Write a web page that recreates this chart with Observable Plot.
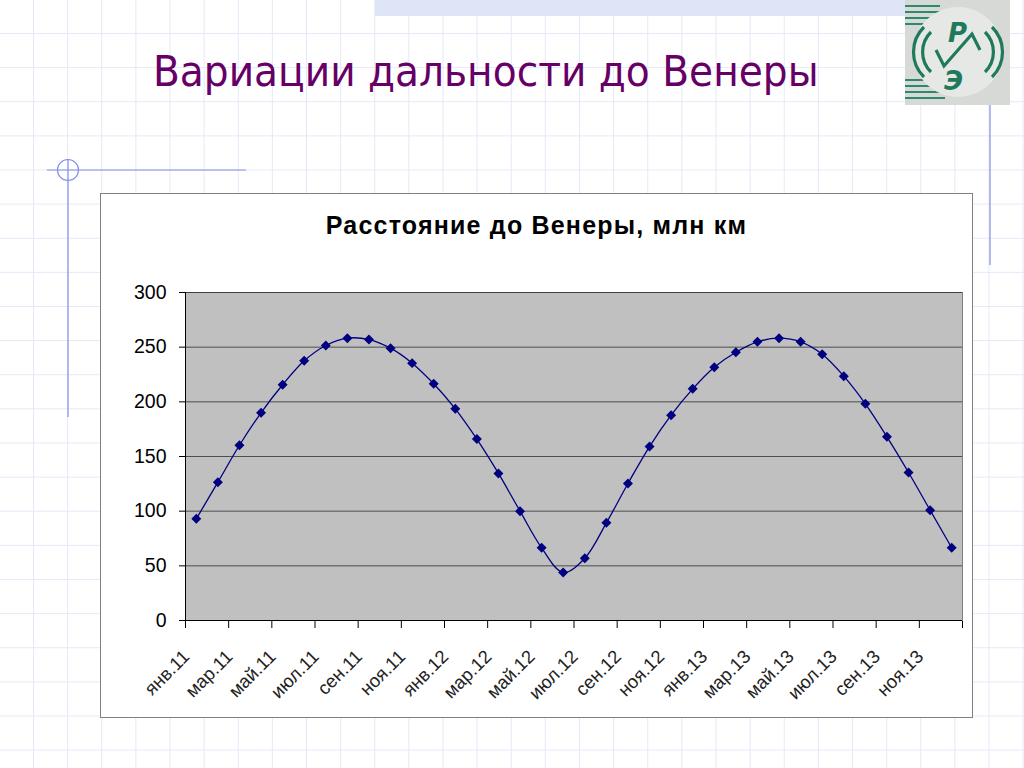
<!DOCTYPE html>
<html>
<head>
<meta charset="utf-8">
<script src="https://cdn.jsdelivr.net/npm/d3@7"></script>
<script src="https://cdn.jsdelivr.net/npm/@observablehq/plot@0.6"></script>
<style>
  html, body { margin: 0; padding: 0; }
  body {
    width: 1024px; height: 768px; position: relative; overflow: hidden;
    background-color: #fff;
    background-image:
      linear-gradient(to right, #e4e9f7 1px, transparent 1px),
      linear-gradient(to bottom, #e4e9f7 1px, transparent 1px);
    background-size: 34.13px 34.13px;
    background-position: 33px 33px;
  }
  .abs { position: absolute; }
  #title {
    left: 153px; top: 46px; font-family: "DejaVu Sans Condensed", "DejaVu Sans", sans-serif;
    font-size: 43.5px; color: #660066; white-space: nowrap;
  }
  #chartbox {
    left: 100px; top: 193px; width: 871px; height: 523px;
    background: #fff; border: 1px solid #808080;
  }
  #charttitle {
    left: 100px; top: 211px; width: 873px; text-align: center;
    font-family: "Liberation Sans", Arial, sans-serif; font-weight: bold; font-size: 25px;
    letter-spacing: 1.2px; color: #000;
  }
  #plot { left: 100px; top: 193px; }
</style>
</head>
<body>
<!-- decorative slide elements -->
<div class="abs" style="left:375px;top:0;width:530px;height:16px;background:#dde5f7;"></div>
<svg class="abs" style="left:0;top:0" width="1024" height="768">
  <line x1="47" y1="170" x2="246" y2="170" stroke="#8090e4" stroke-width="1.2"/>
  <circle cx="68" cy="170" r="10.5" fill="none" stroke="#8090e4" stroke-width="1.2"/>
  <line x1="68" y1="159" x2="68" y2="417" stroke="#8090e4" stroke-width="1.2"/>
  <line x1="990" y1="105" x2="990" y2="265" stroke="#8090e4" stroke-width="1.2"/>
  <!-- logo -->
  <rect x="905" y="0" width="105" height="105" fill="#d6d9d6"/>
  <g stroke="#2c8a6c" stroke-width="2">
    <line x1="905" y1="6" x2="940" y2="6"/><line x1="905" y1="12" x2="940" y2="12"/>
    <line x1="905" y1="18" x2="935" y2="18"/><line x1="905" y1="24" x2="930" y2="24"/>
    <line x1="905" y1="80" x2="930" y2="80"/><line x1="905" y1="86" x2="935" y2="86"/>
    <line x1="905" y1="92" x2="940" y2="92"/><line x1="905" y1="98" x2="945" y2="98"/>
  </g>
  <circle cx="958" cy="52" r="45" fill="#e6e8e6"/>
  <g fill="none" stroke="#1f7a5c" stroke-width="3.2">
    <path d="M931,32 A28,28 0 0 0 931,72"/>
    <path d="M924,27 A35,35 0 0 0 924,77"/>
    <path d="M985,32 A28,28 0 0 1 985,72"/>
    <path d="M992,27 A35,35 0 0 1 992,77"/>
    <path d="M936,50 L944,66 L972,34 L980,50"/>
  </g>
  <text x="948" y="42" font-family="DejaVu Sans" font-style="italic" font-weight="bold" font-size="26" fill="#1f7a5c">Р</text>
  <text x="944" y="90" font-family="DejaVu Sans" font-style="italic" font-weight="bold" font-size="26" fill="#1f7a5c">Э</text>
</svg>
<div id="title" class="abs">Вариации дальности до Венеры</div>
<div id="chartbox" class="abs"></div>
<div id="plot" class="abs"></div>
<div id="charttitle" class="abs">Расстояние до Венеры, млн км</div>
<script>
const months = [
  "янв.11","фев.11","мар.11","апр.11","май.11","июн.11","июл.11","авг.11","сен.11","окт.11","ноя.11","дек.11",
  "янв.12","фев.12","мар.12","апр.12","май.12","июн.12","июл.12","авг.12","сен.12","окт.12","ноя.12","дек.12",
  "янв.13","фев.13","мар.13","апр.13","май.13","июн.13","июл.13","авг.13","сен.13","окт.13","ноя.13","дек.13"
];
const distance = [
  93, 126.5, 160.3, 190, 215.6, 237.5, 251.5, 258.2, 257, 249.1, 235.4, 216.5,
  193.6, 165.9, 134.5, 100, 66.5, 43.9, 57, 89.3, 125.3, 159.1, 187.8, 211.9,
  231.7, 245.4, 254.9, 258.2, 254.9, 243.6, 223.5, 198.2, 168, 135.4, 100.9, 66.5
];
const yTicks = [0, 50, 100, 150, 200, 250, 300];
const xTickBoundaries = d3.range(0, 37, 2);
const labelEvery = 2;

const rows = months.map((m, i) => ({i, m, v: distance[i]}));
const labels = rows.filter(d => d.i % labelEvery === 0);

const chart = Plot.plot({
  width: 873,
  height: 525,
  marginLeft: 85,
  marginRight: 11,
  marginTop: 99,
  marginBottom: 98,
  style: {background: "transparent", fontFamily: "'Liberation Sans', Arial, sans-serif", fontSize: "19.5px", color: "#000", overflow: "visible"},
  x: {domain: [0, 36], ticks: xTickBoundaries, tickFormat: () => "", tickSize: 8, label: null},
  y: {domain: [0, 300], ticks: yTicks, tickSize: 6, tickPadding: 13, label: null},
  marks: [
    Plot.frame({fill: "#c0c0c0", stroke: "#808080"}),
    Plot.ruleY(yTicks.filter(t => t > 0), {stroke: "#303030", strokeOpacity: 0.8, strokeWidth: 1}),
    Plot.ruleX([0], {stroke: "#000"}),
    Plot.ruleY([0], {stroke: "#000"}),
    Plot.line(rows, {x: d => d.i + 0.5, y: "v", curve: "catmull-rom", stroke: "#000080", strokeWidth: 1.3}),
    Plot.dot(rows, {x: d => d.i + 0.5, y: "v", symbol: "diamond2", r: 4.5, fill: "#000080", stroke: "none"}),
    Plot.text(labels, {x: d => d.i + 0.5, y: () => 0, text: "m", rotate: -45, textAnchor: "end", lineAnchor: "top", dx: -15, dy: 28, fontSize: 18.5, fill: "#222"})
  ]
});
document.getElementById("plot").appendChild(chart);
</script>
</body>
</html>
